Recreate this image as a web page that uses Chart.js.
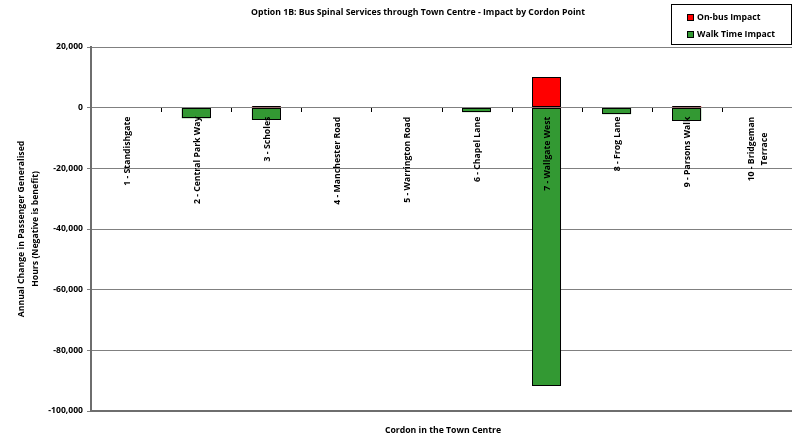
<!DOCTYPE html>
<html>
<head>
<meta charset="utf-8">
<script src="https://cdn.jsdelivr.net/npm/chart.js@4"></script>
<style>
html,body{margin:0;padding:0;background:#fff;}
#wrap{width:792px;height:439px;position:relative;}
</style>
</head>
<body>
<div id="wrap"><canvas id="c" width="792" height="439"></canvas></div>
<script>
const categories = ['1 - Standishgate','2 - Central Park Way','3 - Scholes','4 - Manchester Road','5 - Warrington Road','6 - Chapel Lane','7 - Wallgate West','8 - Frog Lane','9 - Parsons Walk',['10 - Bridgeman','Terrace']];
const onBusImpact = [0, 0, 400, 0, 0, 0, 10000, 0, 490, 0];
const walkTimeImpact = [0, -3490, -3950, 0, 0, -1480, -91700, -2140, -4340, 0];
const yTicks = [20000, 0, -20000, -40000, -60000, -80000, -100000];

const titleText = 'Option 1B: Bus Spinal Services through Town Centre - Impact by Cordon Point';
const xTitle = 'Cordon in the Town Centre';
const yTitle = ['Annual Change in Passenger Generalised', 'Hours (Negative is benefit)'];
const legendItems = [['On-bus Impact', '#ff0000'], ['Walk Time Impact', '#339933']];

const FONT = "'Open Sans', sans-serif";
const GRID = '#808080';
const AXIS = '#6e6e6e';
const LBL = 'bold 8.7px ' + FONT;

const fmt = v => (v < 0 ? '-' : '') + Math.abs(v).toLocaleString('en-US');

const overlay = {
  id: 'overlay',
  afterDatasetsDraw(chart) {
    const ctx = chart.ctx;
    const x = chart.scales.x, y = chart.scales.y;
    const y0 = y.getPixelForValue(0);
    const area = chart.chartArea;
    const w = (area.right - area.left) / categories.length;
    ctx.save();
    ctx.strokeStyle = '#000';
    ctx.lineWidth = 1;
    chart.data.datasets.forEach((ds, di) => {
      chart.getDatasetMeta(di).data.forEach((el, i) => {
        if (!ds.data[i]) return;
        const p = el.getProps(['x', 'y', 'base', 'width'], true);
        const l = Math.round(p.x - p.width / 2), r = Math.round(p.x + p.width / 2);
        const t = Math.round(Math.min(p.y, p.base)), b = Math.round(Math.max(p.y, p.base));
        ctx.strokeRect(l + 0.5, t + 0.5, r - l - 1, b - t - 1);
      });
    });
    for (let k = 1; k < categories.length; k++) {
      const px = Math.round(area.left + k * w) + 0.5;
      ctx.beginPath(); ctx.moveTo(px, Math.round(y0)); ctx.lineTo(px, Math.round(y0) + 4); ctx.stroke();
    }
    ctx.fillStyle = '#000';
    ctx.font = LBL;
    ctx.textAlign = 'center';
    ctx.textBaseline = 'middle';
    categories.forEach((c, i) => {
      const lines = Array.isArray(c) ? c : [c];
      const len = Math.max(...lines.map(l => ctx.measureText(l).width));
      const cx = x.getPixelForValue(i) + 1;
      const cy = y0 + 9 + len / 2;
      const lh = 13;
      lines.forEach((l, j) => {
        ctx.save();
        ctx.translate(cx + (j - (lines.length - 1) / 2) * lh, cy);
        ctx.rotate(-Math.PI / 2);
        ctx.fillText(l, 0, 0);
        ctx.restore();
      });
    });
    ctx.fillText(titleText, 418, 13);
    ctx.fillText(xTitle, 443, 431);
    ctx.save();
    ctx.translate(22, (area.top + area.bottom) / 2);
    ctx.rotate(-Math.PI / 2);
    ctx.fillText(yTitle[0], 0, 0);
    ctx.fillText(yTitle[1], 0, 14);
    ctx.restore();
    ctx.strokeRect(671.5, 4.5, 120, 40);
    ctx.textAlign = 'left';
    legendItems.forEach((it, j) => {
      const cy = 17 + j * 17;
      ctx.fillStyle = it[1];
      ctx.fillRect(687, cy - 3, 7, 7);
      ctx.strokeRect(687.5, cy - 2.5, 6, 6);
      ctx.fillStyle = '#000';
      ctx.fillText(it[0], 697, cy + 0.5);
    });
    ctx.restore();
  }
};

new Chart(document.getElementById('c'), {
  type: 'bar',
  data: {
    labels: categories,
    datasets: [
      { label: legendItems[0][0], data: onBusImpact, backgroundColor: '#ff0000', borderWidth: 0, barPercentage: 0.41, categoryPercentage: 1 },
      { label: legendItems[1][0], data: walkTimeImpact, backgroundColor: '#339933', borderWidth: 0, barPercentage: 0.41, categoryPercentage: 1 }
    ]
  },
  options: {
    responsive: false,
    animation: false,
    devicePixelRatio: 1,
    layout: { padding: { top: 47, right: -5, left: 0, bottom: 0 } },
    plugins: { legend: { display: false }, title: { display: false }, tooltip: { enabled: false } },
    scales: {
      x: {
        stacked: true,
        grid: { display: false },
        border: { display: true, color: AXIS, width: 2 },
        ticks: { display: false },
        afterFit: s => { s.height = 28; }
      },
      y: {
        stacked: true,
        min: -100000, max: 20000,
        afterBuildTicks: s => { s.ticks = yTicks.map(v => ({ value: v })); },
        ticks: { callback: v => fmt(v), color: '#000', font: { family: FONT, weight: 'bold', size: 8.6 }, padding: 4 },
        grid: { color: GRID, tickLength: 4, lineWidth: 1 },
        border: { color: AXIS, width: 2 },
        afterFit: s => { s.width = 91; }
      }
    }
  },
  plugins: [overlay]
});
</script>
</body>
</html>
